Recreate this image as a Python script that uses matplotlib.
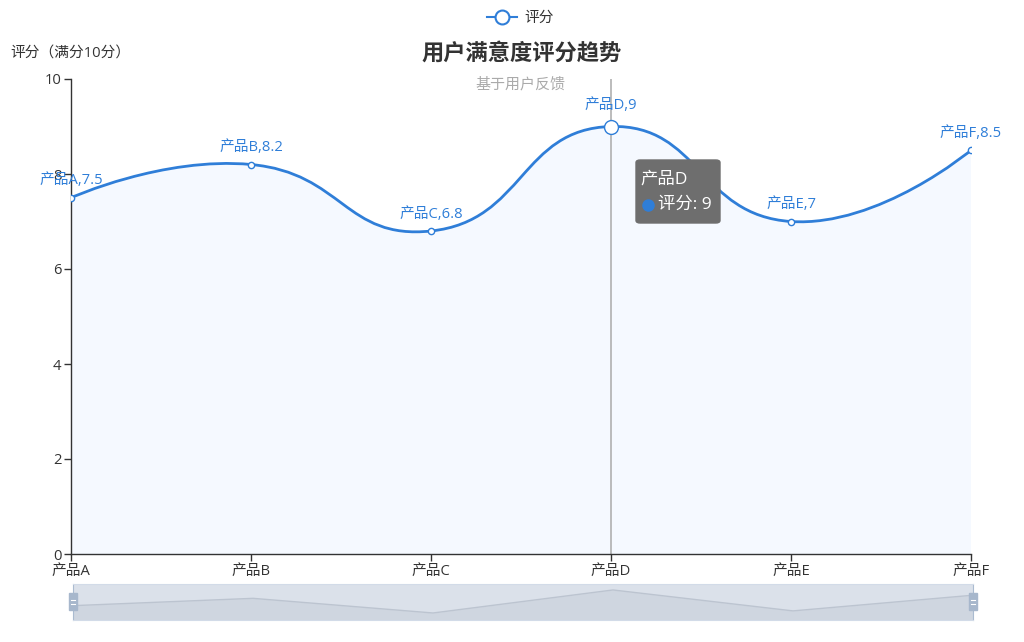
import matplotlib
matplotlib.use("Agg")
import matplotlib.pyplot as plt
from matplotlib.path import Path
from matplotlib.patches import PathPatch, FancyBboxPatch, Rectangle
import numpy as np

plt.rcParams['font.family'] = ['Open Sans', 'Noto Sans CJK SC', 'DejaVu Sans']

categories = ['产品A', '产品B', '产品C', '产品D', '产品E', '产品F']
scores = [7.5, 8.2, 6.8, 9, 7, 8.5]
yticks = [0, 2, 4, 6, 8, 10]
title = '用户满意度评分趋势'
subtitle = '基于用户反馈'
series_name = '评分'
yaxis_name = '评分（满分10分）'
hover_index = 3

LINE = '#2f7ed8'
TXT = '#333333'
W, H = 1024, 642
fig = plt.figure(figsize=(W / 100, H / 100), dpi=100)

def fx(x):
    return x / W

def fy(y):
    return 1 - y / H

# main axes: x 71..971, y 79..554
ax = fig.add_axes([fx(71), fy(554), fx(971) - fx(71), fy(79) - fy(554)])
n = len(categories)
xs = np.arange(n)
ax.set_xlim(0, n - 1)
ax.set_ylim(0, 10)

# ECharts-like smooth bezier computed in pixel space
sx = 900 / (n - 1)
sy = 475 / 10.0
P = np.column_stack([xs * sx, -np.array(scores) * sy])
smooth = 0.5
verts = [tuple(P[0])]
codes = [Path.MOVETO]
cp_out = P[0].copy()
for i in range(1, n):
    p = P[i]
    if i < n - 1:
        prev, nxt = P[i - 1], P[i + 1]
        v = nxt - prev
        l0 = np.hypot(*(p - prev))
        l1 = np.hypot(*(nxt - p))
        r = l1 / (l0 + l1)
        cp_in = p - v * smooth * (1 - r)
        new_out = p + v * smooth * r
    else:
        cp_in = p.copy()
        new_out = p.copy()
    verts += [tuple(cp_out), tuple(cp_in), tuple(p)]
    codes += [Path.CURVE4] * 3
    cp_out = new_out
verts = [(vx / sx, -vy / sy) for vx, vy in verts]

area_verts = verts + [(n - 1, 0), (0, 0), verts[0]]
area_codes = codes + [Path.LINETO, Path.LINETO, Path.CLOSEPOLY]
ax.add_patch(PathPatch(Path(area_verts, area_codes), facecolor='#f5f9ff', edgecolor='none', zorder=1))

# hover pointer line
ax.axvline(xs[hover_index], color='#b0b0b0', lw=1.2, zorder=2)

ax.add_patch(PathPatch(Path(verts, codes), facecolor='none', edgecolor=LINE, lw=2, zorder=3))
for i in range(n):
    ms = 10 if i == hover_index else 4.5
    ax.plot(xs[i], scores[i], 'o', ms=ms, mfc='white', mec=LINE, mew=1, zorder=4)
    ax.annotate(f'{categories[i]},{scores[i]:g}', (xs[i], scores[i]), xytext=(0, 21 if i == hover_index else 17),
                textcoords='offset pixels', ha='center', va='center', color=LINE, fontsize=10.6, zorder=5)

ax.set_xticks(xs)
ax.set_xticklabels(categories)
ax.set_yticks(yticks)
ax.set_yticklabels([str(t) for t in yticks])
for s in ['top', 'right']:
    ax.spines[s].set_visible(False)
for s in ['left', 'bottom']:
    ax.spines[s].set_color(TXT)
    ax.spines[s].set_linewidth(1)
ax.tick_params(axis='both', colors=TXT, labelcolor=TXT, labelsize=10.6, length=5, width=1, pad=2)
ax.set_facecolor('none')

# texts
fig.text(fx(522), fy(54), title, ha='center', va='center', fontsize=16, fontweight='bold', color=TXT)
fig.text(fx(520), fy(85), subtitle, ha='center', va='center', fontsize=10.8, color='#aaaaaa')
fig.text(fx(10), fy(54), yaxis_name, ha='left', va='center', fontsize=10.6, color=TXT)

# legend
fig.add_artist(plt.Line2D([fx(487), fx(517)], [fy(17), fy(17)], color=LINE, lw=1.5))
fig.add_artist(plt.Line2D([fx(502)], [fy(17)], marker='o', ms=10, mfc='white', mec=LINE, mew=1.5))
fig.text(fx(524), fy(18), series_name, ha='left', va='center', fontsize=10.6, color=TXT)

# tooltip
fig.add_artist(FancyBboxPatch((fx(636), fy(223)), fx(720) - fx(636), fy(160) - fy(223),
                              boxstyle='round,pad=0,rounding_size=0.004', facecolor='#6e6e6e',
                              edgecolor='#6e6e6e', lw=1, zorder=10, transform=fig.transFigure))
fig.text(fx(640), fy(180), categories[hover_index], ha='left', va='center', fontsize=12.5, color='white', zorder=11)
fig.add_artist(plt.Line2D([fx(648)], [fy(205)], marker='o', ms=8, mfc=LINE, mec=LINE, zorder=11))
fig.text(fx(658), fy(205), f'{series_name}: {scores[hover_index]:g}', ha='left', va='center',
         fontsize=12.5, color='white', zorder=11)

# dataZoom slider
sax = fig.add_axes([fx(73), fy(620), fx(973) - fx(73), fy(584) - fy(620)])
sax.set_xlim(0, n - 1)
sax.set_ylim(6.13, 9.57)
sax.set_facecolor('#dbe1ea')
sax.fill_between(xs, scores, 6.13, color='#cfd6e0', lw=0)
sax.plot(xs, scores, color='#bcc4d0', lw=1)
sax.set_xticks([])
sax.set_yticks([])
for s in sax.spines.values():
    s.set_color('#d2dbe8')
sax.spines['left'].set_color('#aabbd0')
sax.spines['right'].set_color('#aabbd0')
for hx in (73, 973):
    fig.add_artist(Rectangle((fx(hx - 4), fy(610)), fx(8), fy(593) - fy(610), facecolor='#a7b7cc',
                             edgecolor='#a7b7cc', transform=fig.transFigure, zorder=5))
    for yy in (600, 604):
        fig.add_artist(plt.Line2D([fx(hx - 2), fx(hx + 2)], [fy(yy), fy(yy)], color='white', lw=0.8, zorder=6))

fig.savefig('out.png', dpi=100)
